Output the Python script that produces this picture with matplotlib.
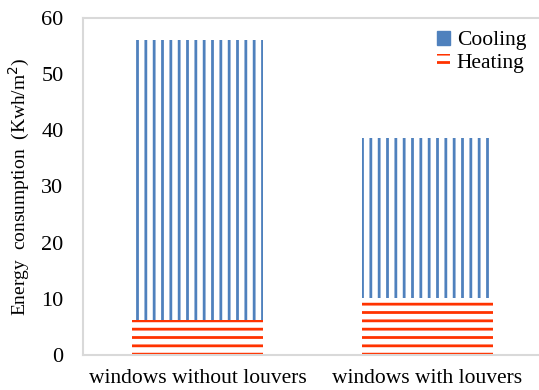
import numpy as np
import matplotlib.pyplot as plt
from matplotlib.patches import Patch

plt.rcParams['font.family'] = ['Liberation Serif', 'DejaVu Serif']
plt.rcParams['hatch.linewidth'] = 2.0

# data
categories = ['windows without louvers', 'windows with louvers']
heating = [6.2, 10.2]
cooling = [49.8, 28.5]

blue = '#4F81BD'
red = '#FF3300'

fig = plt.figure(figsize=(5.39, 3.90), dpi=100)
ax = fig.add_axes([0.154, 0.09, 0.846, 0.864])

x = np.arange(len(categories))
w = 0.57
ax.bar(x, heating, width=w, color='white', edgecolor=red, hatch='--', linewidth=0)
ax.bar(x, cooling, bottom=heating, width=w, color='white', edgecolor=blue, hatch='||', linewidth=0)

ax.set_xlim(-0.5, 1.487)
ax.set_ylim(0, 60)
ax.set_yticks(range(0, 61, 10))
ax.set_xticks(x)
ax.set_xticklabels(categories, fontsize=15.5)
ax.tick_params(axis='y', labelsize=16, length=0, pad=14)
ax.tick_params(axis='x', length=0, pad=10)
ax.set_ylabel('Energy  consumption  (Kwh/m$^2$)', fontsize=14, labelpad=7)

for s in ['left', 'top', 'bottom']:
    ax.spines[s].set_color('#D9D9D9')
    ax.spines[s].set_linewidth(1.5)
ax.spines['right'].set_visible(False)

handles = [Patch(facecolor=blue, edgecolor=blue),
           Patch(facecolor='white', edgecolor=red, hatch='--', linewidth=0)]
ax.legend(handles, ['Cooling', 'Heating'], loc='upper right', frameon=False,
          fontsize=15.5, handlelength=0.6, handleheight=0.6, handletextpad=0.3,
          labelspacing=0.15, borderaxespad=0.2, bbox_to_anchor=(1.0, 1.0))

fig.savefig('out.png', dpi=100)
